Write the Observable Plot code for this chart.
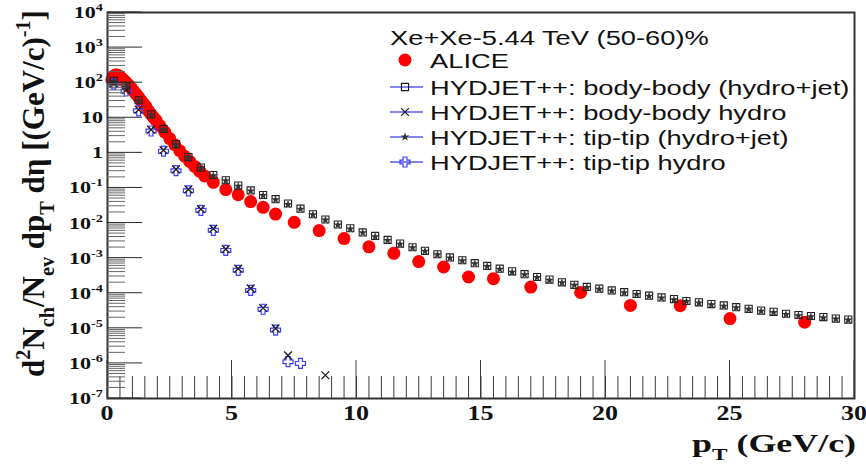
<!DOCTYPE html>
<html><head><meta charset="utf-8">
<script src="https://cdn.jsdelivr.net/npm/d3@7"></script>
<script src="https://cdn.jsdelivr.net/npm/@observablehq/plot@0.6"></script>
<style>html,body{margin:0;padding:0;background:#fff;}</style>
</head><body><div id="chart"></div>
<script>
// ---------------- data ----------------
const alicePt = [0.175,0.225,0.275,0.325,0.375,0.425,0.475,0.525,0.575,0.625,0.675,0.725,0.775,0.825,0.875,0.925,0.975,
  1.05,1.15,1.25,1.35,1.45,1.55,1.65,1.75,1.85,1.95,
  2.1,2.3,2.5,2.7,2.9,3.1,3.3,3.5,3.7,3.9,
  4.25,4.75,5.25,5.75,6.25,6.75,7.5,8.5,9.5,
  10.5,11.5,12.5,13.5,14.5,15.5,17,19,21,23,25,28];
const aliceVal = [120,145,158,165,165,160,152,142,132,122,113,104,96,88,80,73,67,
  58,47,38.5,31,25,20.5,15.5,12.5,10.2,8.4,
  6.0,3.9,2.55,1.7,1.15,0.80,0.57,0.41,0.30,0.22,
  0.145,0.090,0.064,0.041,0.028,0.018,0.0105,0.0061,0.0036,
  0.0021,0.00137,0.00080,0.00056,0.00029,0.00026,1.5e-4,1.05e-4,4.5e-5,4.4e-5,1.9e-5,1.5e-5];

const modelPt = [0.25,0.75,1.25,1.75,2.25,2.75,3.25,3.75,4.25,4.75,5.25,5.75,6.25,6.75,7.25,7.75,8.25,8.75,9.25,9.75,
  10.25,10.75,11.25,11.75,12.25,12.75,13.25,13.75,14.25,14.75,15.25,15.75,16.25,16.75,17.25,17.75,18.25,18.75,19.25,19.75,
  20.25,20.75,21.25,21.75,22.25,22.75,23.25,23.75,24.25,24.75,25.25,25.75,26.25,26.75,27.25,27.75,28.25,28.75,29.25,29.75];
const bbHydroJet = [112,79,31.6,12.6,4.8,1.78,0.76,0.38,0.234,0.166,0.117,0.085,0.063,0.048,0.036,0.0257,0.0178,0.0126,0.0091,0.0071,
  0.0054,0.0043,0.0033,0.0026,0.00204,0.00162,0.00129,0.00105,8.7e-4,7.2e-4,6.0e-4,5.0e-4,4.2e-4,3.5e-4,2.9e-4,2.45e-4,2.04e-4,1.74e-4,1.51e-4,1.35e-4,
  1.2e-4,1.07e-4,9.5e-5,8.5e-5,7.6e-5,6.8e-5,6.0e-5,5.5e-5,4.9e-5,4.5e-5,4.0e-5,3.6e-5,3.2e-5,2.95e-5,2.6e-5,2.4e-5,2.24e-5,2.09e-5,1.9e-5,1.78e-5];
const ttHydroJet = [108,82,30,12.0,4.6,1.70,0.74,0.37,0.225,0.160,0.113,0.082,0.061,0.046,0.034,0.0250,0.0172,0.0122,0.0088,0.0068,
  0.0053,0.0041,0.0032,0.0025,0.00198,0.00158,0.00125,0.00101,8.4e-4,7.0e-4,5.8e-4,4.8e-4,4.0e-4,3.4e-4,2.8e-4,2.35e-4,1.98e-4,1.68e-4,1.46e-4,1.3e-4,
  1.16e-4,1.03e-4,9.2e-5,8.2e-5,7.3e-5,6.5e-5,5.8e-5,5.3e-5,4.7e-5,4.3e-5,3.85e-5,3.5e-5,3.1e-5,2.85e-5,2.5e-5,2.3e-5,2.15e-5,2.0e-5,1.85e-5,1.72e-5];

const ttHydroPt = [0.25,0.75,1.25,1.75,2.25,2.75,3.25,3.75,4.25,4.75,5.25,5.75,6.25,6.75,7.25,7.75];
const ttHydro = [91,58,15.8,4.2,1.12,0.31,0.083,0.023,0.0062,0.00166,4.5e-4,1.2e-4,3.5e-5,8.9e-6,1.12e-6,1.0e-6];
const bbHydroPt = [0.25,0.75,1.25,1.75,2.25,2.75,3.25,3.75,4.25,4.75,5.25,5.75,6.25,6.75,7.25,8.75];
const bbHydro = [95,62,17,4.6,1.2,0.34,0.091,0.025,0.0069,0.0018,5.0e-4,1.38e-4,3.8e-5,1.0e-5,1.7e-6,4.6e-7];

const xMajor = [0,5,10,15,20,25,30];
const yExps = [-7,-6,-5,-4,-3,-2,-1,0,1,2,3,4];
const legendTitle = "Xe+Xe-5.44 TeV (50-60)%";
const legendLabels = ["ALICE","HYDJET++: body-body (hydro+jet)","HYDJET++: body-body hydro","HYDJET++: tip-tip (hydro+jet)","HYDJET++: tip-tip hydro"];

// ---------------- helpers ----------------
const xMinor = d3.range(0, 30.001, 0.5);
const yMinor = [];
for (let e = -7; e < 4; e++) for (let k = 2; k <= 9; k++) yMinor.push(k * 10 ** e);
const yMajor = yExps.map(e => 10 ** e);
const zip = (px, py) => px.map((x, i) => ({x, y: py[i]}));

const openCross = {
  draw(context, size) {
    const r = Math.sqrt(size / Math.PI), a = r * 0.38;
    context.moveTo(-a, -r); context.lineTo(a, -r); context.lineTo(a, -a); context.lineTo(r, -a);
    context.lineTo(r, a); context.lineTo(a, a); context.lineTo(a, r); context.lineTo(-a, r);
    context.lineTo(-a, a); context.lineTo(-r, a); context.lineTo(-r, -a); context.lineTo(-a, -a);
    context.closePath();
  }
};
const BLUE = "#3b3bff", LINEBLUE = "#5a5aee", BLK = "#1a1a1a", RED = "#ff0000";

const ML = 107, MB = 72;
const plot = Plot.plot({
  width: 866, height: 470, marginLeft: ML, marginRight: 12, marginTop: 12, marginBottom: MB,
  style: {background: "#fff", overflow: "visible"},
  x: {domain: [0, 30]},
  y: {type: "log", domain: [1e-7, 1e4]},
  marks: [
    Plot.axisX(xMinor, {anchor: "bottom", tickSize: -22, tickFormat: () => "", label: null, stroke: "#3a3a3a"}),
    Plot.axisY([], {anchor: "left", tickSize: 0, tickFormat: () => "", label: null}),
    Plot.dot(zip(alicePt, aliceVal), {x: "x", y: "y", r: 6.5, fill: RED, stroke: null}),
    Plot.dot(zip(ttHydroPt, ttHydro), {x: "x", y: "y", r: 5, symbol: openCross, fill: "none", stroke: BLUE, strokeWidth: 1.2}),
    Plot.dot(zip(bbHydroPt, bbHydro), {x: "x", y: "y", r: 3.6, symbol: "times", stroke: BLK, strokeWidth: 1.3}),
    Plot.dot(zip(modelPt, bbHydroJet), {x: "x", y: "y", r: 4, symbol: "square", fill: "none", stroke: "#222", strokeWidth: 1.1}),
    Plot.dot(zip(modelPt, ttHydroJet), {x: "x", y: "y", r: 2.8, symbol: "star", fill: "#333", stroke: null}),
    Plot.frame({stroke: "#333", strokeWidth: 2})
  ]
});
document.getElementById("chart").appendChild(plot);

const svg = d3.select(plot);
const xsc = plot.scale("x"), ysc = plot.scale("y");
const SERIF = "'Liberation Serif', 'Times New Roman', serif";
const SANS = "'Liberation Sans', Arial, sans-serif";

function rich(sel, segs, fs) {
  let cur = 0;
  segs.forEach(([t, s]) => {
    const target = s === 1 ? -0.42 * fs : s === -1 ? 0.3 * fs : 0;
    sel.append("tspan").attr("dy", target - cur).attr("font-size", s ? fs * 0.65 : fs).text(t);
    cur = target;
  });
}

// y tick labels
const yl = svg.append("g").attr("font-family", SERIF).attr("font-weight", "bold").attr("fill", "#111");
yExps.forEach(e => {
  const t = yl.append("text").attr("text-anchor", "end").attr("font-size", 17)
    .attr("transform", `translate(103,${ysc.apply(10 ** e) + 6}) scale(1.3,1)`);
  if (e === 0) t.text("1");
  else if (e === 1) t.text("10");
  else { t.append("tspan").text("10"); t.append("tspan").attr("font-size", 11).attr("dy", -7).text(String(e)); }
});

// x tick labels
const xl = svg.append("g").attr("font-family", SERIF).attr("font-weight", "bold").attr("fill", "#111");
xMajor.forEach(v => {
  xl.append("text").attr("text-anchor", "middle").attr("font-size", 20)
    .attr("transform", `translate(${xsc.apply(v)},420) scale(1.3,1)`).text(String(v));
});

// x title
const xt = svg.append("text").attr("font-family", SERIF).attr("font-weight", "bold").attr("fill", "#111").attr("text-anchor", "end");
rich(xt, [["p", 0], ["T", -1], [" (GeV/c)", 0]], 25);
{
  const w = xt.node().getComputedTextLength();
  xt.attr("transform", `translate(856,452) scale(${164 / w},1)`);
}

// y title
const ytt = svg.append("text").attr("font-family", SERIF).attr("font-weight", "bold").attr("fill", "#111").attr("text-anchor", "middle");
rich(ytt, [["d", 0], ["2", 1], ["N", 0], ["ch", -1], ["/N", 0], ["ev", -1], [" dp", 0], ["T", -1], [" dη [(GeV/c)", 0], ["-1", 1], ["]", 0]], 26);
{
  const w = ytt.node().getComputedTextLength();
  ytt.attr("transform", `translate(44,193.5) rotate(-90) scale(${367 / w},1.25)`);
}

// legend
const lg = svg.append("g").attr("font-family", SANS).attr("fill", "#111").attr("text-anchor", "start");
lg.append("text").attr("font-size", 21).attr("transform", "translate(390,45) scale(1.3,1)").text(legendTitle);
const rowY = [60, 87, 112, 137, 162];
const sym = [
  {type: d3.symbolCircle, size: Math.PI * 6.5 * 6.5, fill: RED, stroke: "none", line: false},
  {type: d3.symbolSquare, size: Math.PI * 16, fill: "none", stroke: BLK, line: true},
  {type: d3.symbolTimes, size: Math.PI * 3.6 * 3.6, fill: "none", stroke: BLK, line: true},
  {type: d3.symbolStar, size: Math.PI * 2.8 * 2.8, fill: "#333", stroke: "none", line: true},
  {type: openCross, size: Math.PI * 25, fill: "none", stroke: BLUE, line: true}
];
legendLabels.forEach((lab, i) => {
  const y = rowY[i], s = sym[i];
  if (s.line) lg.append("line").attr("x1", 390).attr("x2", 423).attr("y1", y).attr("y2", y).attr("stroke", LINEBLUE).attr("stroke-width", 1.3);
  lg.append("path").attr("d", d3.symbol(s.type, s.size)()).attr("transform", `translate(405,${y})`)
    .attr("fill", s.fill).attr("stroke", s.stroke).attr("stroke-width", 1.2);
  lg.append("text").attr("font-size", 21).attr("transform", `translate(430,${y + 7.5}) scale(1.3,1)`).text(lab);
});

// axis ticks drawn last, placed through the plot's scales
const tk = svg.append("g").attr("aria-label", "axis ticks");
const yBase = 470 - MB;
xMajor.forEach(v => {
  const x = xsc.apply(v);
  tk.append("line").attr("x1", x).attr("x2", x).attr("y1", yBase).attr("y2", yBase - 38).attr("stroke", "#3a3a3a").attr("stroke-width", 1);
});
yMinor.forEach(v => {
  const y = ysc.apply(v);
  tk.append("line").attr("x1", ML).attr("x2", ML + 18).attr("y1", y).attr("y2", y).attr("stroke", "#666").attr("stroke-width", 1);
});
yMajor.forEach(v => {
  const y = ysc.apply(v);
  tk.append("line").attr("x1", ML).attr("x2", ML + 35).attr("y1", y).attr("y2", y).attr("stroke", "#2a2a2a").attr("stroke-width", 1);
});
</script>
</body></html>
